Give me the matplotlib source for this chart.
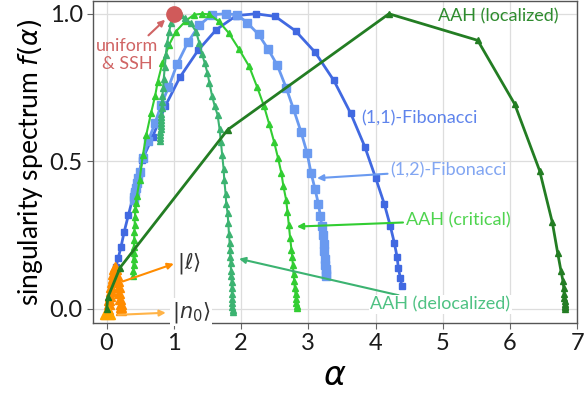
import matplotlib
matplotlib.use("Agg")
import matplotlib.pyplot as plt

plt.rcParams["font.family"] = ["Lato", "DejaVu Sans"]
plt.rcParams["mathtext.fontset"] = "dejavusans"

# (1,1)-Fibonacci
alpha_fib11 = [0.09, 0.11, 0.14, 0.172, 0.215, 0.26, 0.325, 0.41, 0.53, 0.685,
               0.87, 1.09, 1.36, 1.63, 1.93, 2.22, 2.51, 2.81, 3.10, 3.38,
               3.63, 3.84, 4.00, 4.13, 4.22, 4.28, 4.32, 4.34, 4.37, 4.39]
f_fib11 = [0.095, 0.115, 0.143, 0.172, 0.211, 0.26, 0.319, 0.394, 0.505, 0.584,
           0.686, 0.785, 0.876, 0.946, 0.994, 1.0, 0.991, 0.942, 0.87, 0.774,
           0.663, 0.55, 0.445, 0.356, 0.281, 0.223, 0.177, 0.138, 0.104, 0.078]

# (1,2)-Fibonacci
alpha_fib12 = [0.40, 0.41, 0.42, 0.435, 0.45, 0.47, 0.49, 0.54, 0.62, 0.72,
               0.81, 0.92, 1.05, 1.21, 1.38, 1.57, 1.77, 1.94, 2.09, 2.26,
               2.40, 2.54, 2.67, 2.78, 2.89, 2.98, 3.04, 3.10, 3.15, 3.18,
               3.20, 3.215, 3.23, 3.24, 3.25, 3.255, 3.26, 3.265, 3.27]
f_fib12 = [0.37, 0.38, 0.395, 0.41, 0.425, 0.445, 0.465, 0.51, 0.57, 0.63,
           0.69, 0.751, 0.83, 0.904, 0.962, 0.997, 1.0, 0.997, 0.97, 0.93,
           0.881, 0.825, 0.75, 0.677, 0.601, 0.53, 0.462, 0.406, 0.356, 0.315,
           0.281, 0.25, 0.22, 0.195, 0.17, 0.15, 0.135, 0.12, 0.11]

# AAH critical
alpha_crit = [0.395, 0.397, 0.40, 0.40, 0.402, 0.405, 0.41, 0.413, 0.417, 0.42,
              0.428, 0.44, 0.45, 0.49, 0.54, 0.59, 0.66, 0.72, 0.76, 0.83,
              0.93, 1.03, 1.18, 1.30, 1.42, 1.53, 1.67, 1.82, 1.97, 2.12,
              2.24, 2.34, 2.42, 2.49, 2.55, 2.60, 2.63, 2.67, 2.69, 2.71,
              2.73, 2.75, 2.76, 2.77, 2.78, 2.79, 2.80, 2.81, 2.815, 2.82,
              2.825, 2.83]
f_crit = [0.11, 0.13, 0.15, 0.17, 0.19, 0.21, 0.235, 0.26, 0.285, 0.31,
          0.34, 0.36, 0.381, 0.437, 0.522, 0.59, 0.663, 0.72, 0.77, 0.833,
          0.895, 0.94, 0.977, 0.997, 1.0, 0.998, 0.974, 0.934, 0.88, 0.822,
          0.751, 0.688, 0.625, 0.567, 0.511, 0.46, 0.415, 0.37, 0.33, 0.285,
          0.24, 0.2, 0.177, 0.15, 0.12, 0.095, 0.07, 0.05, 0.035, 0.02,
          0.01, 0.003]

# AAH delocalized
alpha_deloc = [0.80, 0.80, 0.80, 0.80, 0.805, 0.805, 0.81, 0.81, 0.815, 0.815,
               0.82, 0.825, 0.83, 0.84, 0.85, 0.865, 0.88, 0.90, 0.93, 0.96,
               1.00, 1.05, 1.10, 1.17, 1.25, 1.33, 1.38, 1.42, 1.46, 1.50,
               1.53, 1.57, 1.61, 1.65, 1.68, 1.70, 1.72, 1.74, 1.75, 1.77,
               1.78, 1.80, 1.81, 1.82, 1.83, 1.835, 1.84, 1.845, 1.85, 1.855,
               1.86, 1.862, 1.865, 1.867, 1.87, 1.872, 1.874, 1.875]
f_deloc = [0.57, 0.58, 0.59, 0.60, 0.61, 0.62, 0.63, 0.64, 0.65, 0.66,
           0.68, 0.70, 0.72, 0.75, 0.78, 0.82, 0.86, 0.90, 0.94, 0.97,
           0.995, 1.0, 0.995, 0.985, 0.968, 0.94, 0.90, 0.863, 0.833, 0.799,
           0.765, 0.72, 0.686, 0.658, 0.61, 0.565, 0.52, 0.475, 0.437, 0.39,
           0.355, 0.324, 0.29, 0.255, 0.225, 0.2, 0.175, 0.155, 0.13, 0.11,
           0.09, 0.07, 0.05, 0.035, 0.02, 0.005, -0.005, -0.012]

# AAH localized
alpha_loc = [0.0, 0.02, 0.2, 1.8, 4.2, 5.52, 6.07, 6.44, 6.63, 6.71,
             6.76, 6.79, 6.80, 6.805, 6.81, 6.812, 6.815, 6.817, 6.818, 6.82]
f_loc = [0.0, 0.04, 0.14, 0.607, 1.0, 0.91, 0.694, 0.469, 0.293, 0.189,
         0.127, 0.093, 0.07, 0.052, 0.038, 0.027, 0.018, 0.01, 0.005, 0.0]

# |l> state
alpha_ell = [0.02, 0.03, 0.04, 0.05, 0.06, 0.07, 0.08, 0.09, 0.10, 0.115,
             0.13, 0.145, 0.16, 0.17, 0.18, 0.19, 0.20, 0.21, 0.215, 0.22]
f_ell = [0.0, 0.015, 0.03, 0.045, 0.06, 0.075, 0.09, 0.105, 0.12, 0.135,
         0.143, 0.135, 0.115, 0.095, 0.075, 0.055, 0.035, 0.018, 0.005, -0.005]

# |n0> state
alpha_n0 = [0.0, 0.02]
f_n0 = [-0.012, -0.012]

# uniform & SSH
alpha_unif = [1.0]
f_unif = [1.0]

fig = plt.figure(figsize=(5.86, 4.05), dpi=100)
ax = fig.add_axes([0.159, 0.203, 0.826, 0.795])

ax.plot(alpha_fib11, f_fib11, "-s", color="#4169e1", ms=5, lw=2, zorder=3)
ax.plot(alpha_fib12, f_fib12, "-s", color="#6a9af0", ms=6, lw=2, zorder=3)
ax.plot(alpha_crit, f_crit, "-^", color="#32cd32", ms=5, lw=1.5, zorder=4)
ax.plot(alpha_deloc, f_deloc, "-^", color="#3cb371", ms=5, lw=1.5, zorder=5)
ax.plot(alpha_ell, f_ell, "-^", color="#ff8c00", ms=7, lw=1.5, zorder=6)
ax.plot(alpha_n0, f_n0, "^", color="#ffa500", ms=10, zorder=6)
ax.plot(alpha_loc, f_loc, "-^", color="#237d23", ms=5, lw=2, zorder=7)
ax.plot(alpha_unif, f_unif, "o", color="#d05a5a", ms=11, zorder=8)

box = dict(facecolor="white", edgecolor="none", pad=1)
arrow = dict(arrowstyle="-|>", lw=1.5, mutation_scale=9, shrinkA=0, shrinkB=0)

ax.annotate("uniform\n& SSH", xy=(0.87, 0.98), xytext=(0.31, 0.86),
            color="#d06464", fontsize=13, ha="center", va="center",
            linespacing=1.15,
            arrowprops=dict(arrow, color="#d06464"), zorder=9)
ax.annotate("", xy=(0.88, -0.013), xytext=(0.17, -0.02),
            arrowprops=dict(arrow, color="#ffb347"), zorder=9)
ax.text(0.97, -0.012, r"$|n_0\rangle$", fontsize=15, ha="left", va="center",
        color="#333333", bbox=box, zorder=9)
ax.annotate("", xy=(1.0, 0.153), xytext=(0.24, 0.093),
            arrowprops=dict(arrow, color="#ff8c00"), zorder=9)
ax.text(1.04, 0.153, r"$|\ell\rangle$", fontsize=15, ha="left", va="center",
        color="#333333", zorder=9)
ax.text(5.83, 0.99, "AAH (localized)", color="#2e8b2e", fontsize=13,
        ha="center", va="center", zorder=9)
ax.text(4.66, 0.647, "(1,1)-Fibonacci", color="#5f84ec", fontsize=13,
        ha="center", va="center", zorder=9)
ax.annotate("(1,2)-Fibonacci", xy=(3.13, 0.443), xytext=(4.22, 0.471),
            color="#82a6f2", fontsize=13, ha="left", va="center",
            arrowprops=dict(arrow, color="#6a9af0"), zorder=9)
ax.annotate("AAH (critical)", xy=(2.83, 0.279), xytext=(4.45, 0.30),
            color="#4fd44f", fontsize=13, ha="left", va="center",
            arrowprops=dict(arrow, color="#32cd32"), zorder=9)
ax.annotate("AAH (delocalized)", xy=(1.97, 0.17), xytext=(3.92, 0.014),
            color="#4fc283", fontsize=13, ha="left", va="center",
            bbox=box, arrowprops=dict(arrow, color="#3cb371"), zorder=9)

ax.set_xlim(-0.2, 7.0)
ax.set_ylim(-0.047, 1.044)
ax.set_xticks(range(8))
ax.set_yticks([0.0, 0.5, 1.0])
ax.set_yticklabels(["0.0", "0.5", "1.0"])
ax.grid(True, color="#dddddd", lw=0.9, zorder=0)
ax.set_axisbelow(True)
ax.tick_params(labelsize=17, direction="out", length=4, color="#666666",
               labelcolor="#1a1a1a")
for s in ax.spines.values():
    s.set_color("#555555")
    s.set_linewidth(1.0)

ax.set_xlabel(r"$\alpha$", fontsize=24, labelpad=5)
ax.set_ylabel(r"singularity spectrum $f(\alpha)$", fontsize=19, labelpad=3)

fig.savefig("out.png", dpi=100)
